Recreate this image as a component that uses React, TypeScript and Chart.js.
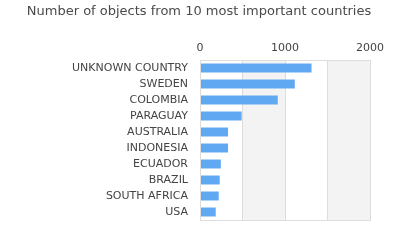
import React, { useEffect, useRef } from "react";
import { Chart, registerables } from "chart.js";

Chart.register(...registerables);

const countries = [
  "UNKNOWN COUNTRY",
  "SWEDEN",
  "COLOMBIA",
  "PARAGUAY",
  "AUSTRALIA",
  "INDONESIA",
  "ECUADOR",
  "BRAZIL",
  "SOUTH AFRICA",
  "USA",
];
const objectCounts = [1312, 1115, 915, 490, 330, 330, 245, 232, 220, 185];
const xTicks = [0, 1000, 2000];
const titleText = "Number of objects from 10 most important countries";

const bandPlugin = {
  id: "bands",
  beforeDraw(chart: any) {
    const { ctx, chartArea, scales } = chart;
    const x = scales.x;
    ctx.save();
    ctx.fillStyle = "#f3f3f3";
    for (let v = 500; v < 2000; v += 1000) {
      const a = x.getPixelForValue(v);
      const b = x.getPixelForValue(v + 500);
      ctx.fillRect(a, chartArea.top, b - a, chartArea.bottom - chartArea.top);
    }
    ctx.restore();
  },
  afterDatasetsDraw(chart: any) {
    const { ctx, chartArea } = chart;
    ctx.save();
    ctx.strokeStyle = "#dddddd";
    ctx.lineWidth = 1;
    ctx.strokeRect(
      Math.round(chartArea.left) + 0.5,
      Math.round(chartArea.top) + 0.5,
      Math.round(chartArea.right - chartArea.left),
      Math.round(chartArea.bottom - chartArea.top)
    );
    ctx.restore();
  },
  afterDraw(chart: any) {
    const { ctx } = chart;
    ctx.save();
    ctx.fillStyle = "#4a4a4a";
    ctx.font = "13px 'DejaVu Sans'";
    ctx.textAlign = "center";
    ctx.textBaseline = "middle";
    ctx.fillText(titleText, 199, 12);
    ctx.restore();
  },
};

export default function App() {
  const ref = useRef<HTMLCanvasElement>(null);
  useEffect(() => {
    if (!ref.current) return;
    const chart = new Chart(ref.current, {
      type: "bar",
      data: {
        labels: countries,
        datasets: [
          {
            data: objectCounts,
            backgroundColor: "#61a8f3",
            borderWidth: 0,
            categoryPercentage: 1,
            barPercentage: 0.56,
          },
        ],
      },
      plugins: [bandPlugin],
      options: {
        indexAxis: "y",
        responsive: false,
        animation: false,
        layout: { padding: { top: 40, bottom: 30, right: 30, left: 0 } },
        plugins: {
          legend: { display: false },
          title: { display: false },
          tooltip: { enabled: false },
        },
        scales: {
          x: {
            position: "top",
            min: 0,
            max: 2000,
            afterBuildTicks: (s: any) => {
              s.ticks = [0, 500, 1000, 1500, 2000].map((v) => ({ value: v }));
            },
            afterFit: (s: any) => {
              s.height = 20;
            },
            ticks: {
              color: "#444444",
              font: { family: "'DejaVu Sans'", size: 11 },
              padding: 5,
              maxRotation: 0,
              autoSkip: false,
              callback: (v: any) => (xTicks.includes(Number(v)) ? String(v) : ""),
            },
            grid: { color: "#dddddd", drawTicks: false },
            border: { display: false },
          },
          y: {
            afterFit: (s: any) => {
              s.width = 200;
            },
            ticks: {
              color: "#444444",
              font: { family: "'DejaVu Sans'", size: 11 },
              padding: 12,
              autoSkip: false,
            },
            grid: { display: false, drawTicks: false },
            border: { display: false },
          },
        },
      },
    });
    return () => chart.destroy();
  }, []);
  return (
    <div style={{ position: "fixed", left: 0, top: 0, width: 400, height: 250, background: "#fff" }}>
      <canvas ref={ref} width={400} height={250} />
    </div>
  );
}
